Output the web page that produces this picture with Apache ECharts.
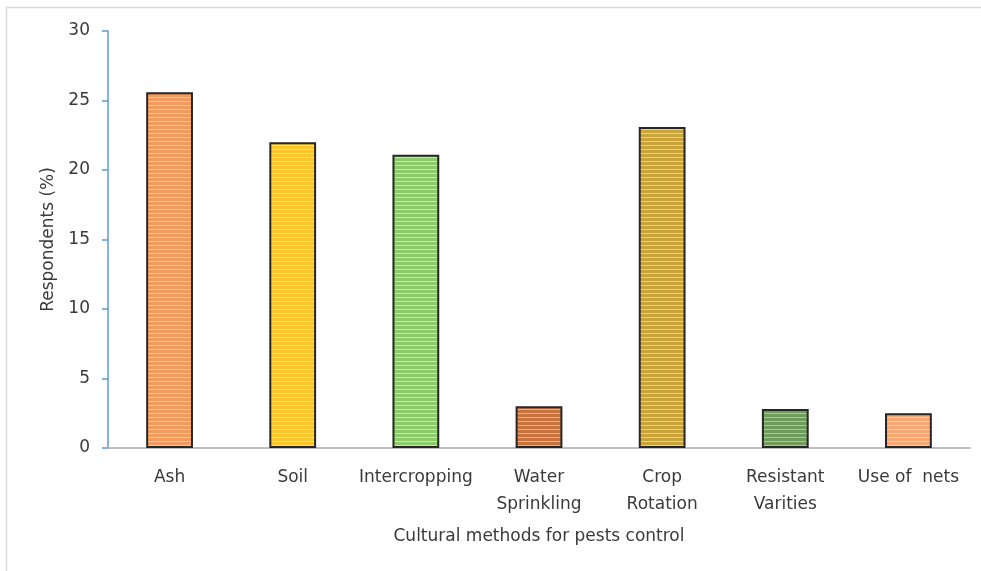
<!DOCTYPE html>
<html>
<head>
<meta charset="utf-8">
<script src="https://cdn.jsdelivr.net/npm/echarts@6/dist/echarts.min.js"></script>
<style>
  html, body { margin: 0; padding: 0; background: #fff; }
  #chart { width: 981px; height: 571px; }
</style>
</head>
<body>
<div id="chart"></div>
<script>
// Cultural pest-control methods and share of respondents using each
var categories = ['Ash', 'Soil', 'Intercropping', 'Water\nSprinkling', 'Crop\nRotation', 'Resistant\nVarities', 'Use of  nets'];
var respondents = [25.6, 22, 21.1, 3, 23.1, 2.8, 2.5];
var yTicks = [0, 5, 10, 15, 20, 25, 30];

// Base fill and stripe colour for each bar
var baseColors = ['#F59A5C', '#FFC52A', '#8DCB6A', '#C8723E', '#C9A43A', '#6F9C5A', '#F9A673'];
var stripeColors = ['#FBC9A4', '#FFE38A', '#C6E7B2', '#E6B08A', '#E8D08C', '#A9C99A', '#FCD2B4'];

// Horizontal-stripe fill pattern
function stripePattern(base, stripe) {
  var c = document.createElement('canvas');
  c.width = 8; c.height = 4;
  var ctx = c.getContext('2d');
  ctx.fillStyle = base;
  ctx.fillRect(0, 0, 8, 4);
  ctx.fillStyle = stripe;
  ctx.fillRect(0, 1, 8, 1);
  return { image: c, repeat: 'repeat' };
}

var barData = respondents.map(function (v, i) {
  return {
    value: v,
    itemStyle: {
      color: stripePattern(baseColors[i], stripeColors[i]),
      borderColor: '#262626',
      borderWidth: 2
    }
  };
});

var font = '"DejaVu Sans", "Open Sans", sans-serif';
var textColor = '#3A3A3A';
var chart = echarts.init(document.getElementById('chart'));
chart.setOption({
  animation: false,
  backgroundColor: '#fff',
  grid: { left: 108, right: 11, top: 31, bottom: 123, containLabel: false },
  xAxis: {
    type: 'category',
    data: categories,
    name: 'Cultural methods for pests control',
    nameLocation: 'middle',
    nameGap: 80,
    nameTextStyle: { fontFamily: font, fontSize: 17, color: textColor },
    axisLine: { lineStyle: { color: '#BFBFBF', width: 2 } },
    axisTick: { show: false },
    axisLabel: {
      fontFamily: font, fontSize: 17, color: textColor,
      margin: 16, lineHeight: 27, interval: 0, verticalAlign: 'top'
    }
  },
  yAxis: {
    type: 'value',
    min: 0, max: 30, interval: 5,
    name: 'Respondents (%)',
    nameLocation: 'middle',
    nameGap: 51,
    nameTextStyle: { fontFamily: font, fontSize: 17, color: textColor },
    axisLine: { show: true, lineStyle: { color: '#5B9BD5', width: 1.5 } },
    axisTick: { show: true, inside: false, length: 6, lineStyle: { color: '#5B9BD5', width: 1.5 } },
    splitLine: { show: false },
    axisLabel: {
      fontFamily: font, fontSize: 17, color: textColor, margin: 18,
      formatter: function (v) { return yTicks.indexOf(v) >= 0 ? String(v) : ''; }
    }
  },
  series: [{
    type: 'bar',
    data: barData,
    barWidth: '38%'
  }],
  graphic: [
    { type: 'line', shape: { x1: 6, y1: 7.5, x2: 981, y2: 7.5 }, style: { stroke: '#D9D9D9', lineWidth: 1.5 } },
    { type: 'line', shape: { x1: 6.5, y1: 7, x2: 6.5, y2: 571 }, style: { stroke: '#D9D9D9', lineWidth: 1.5 } }
  ]
});
</script>
</body>
</html>
